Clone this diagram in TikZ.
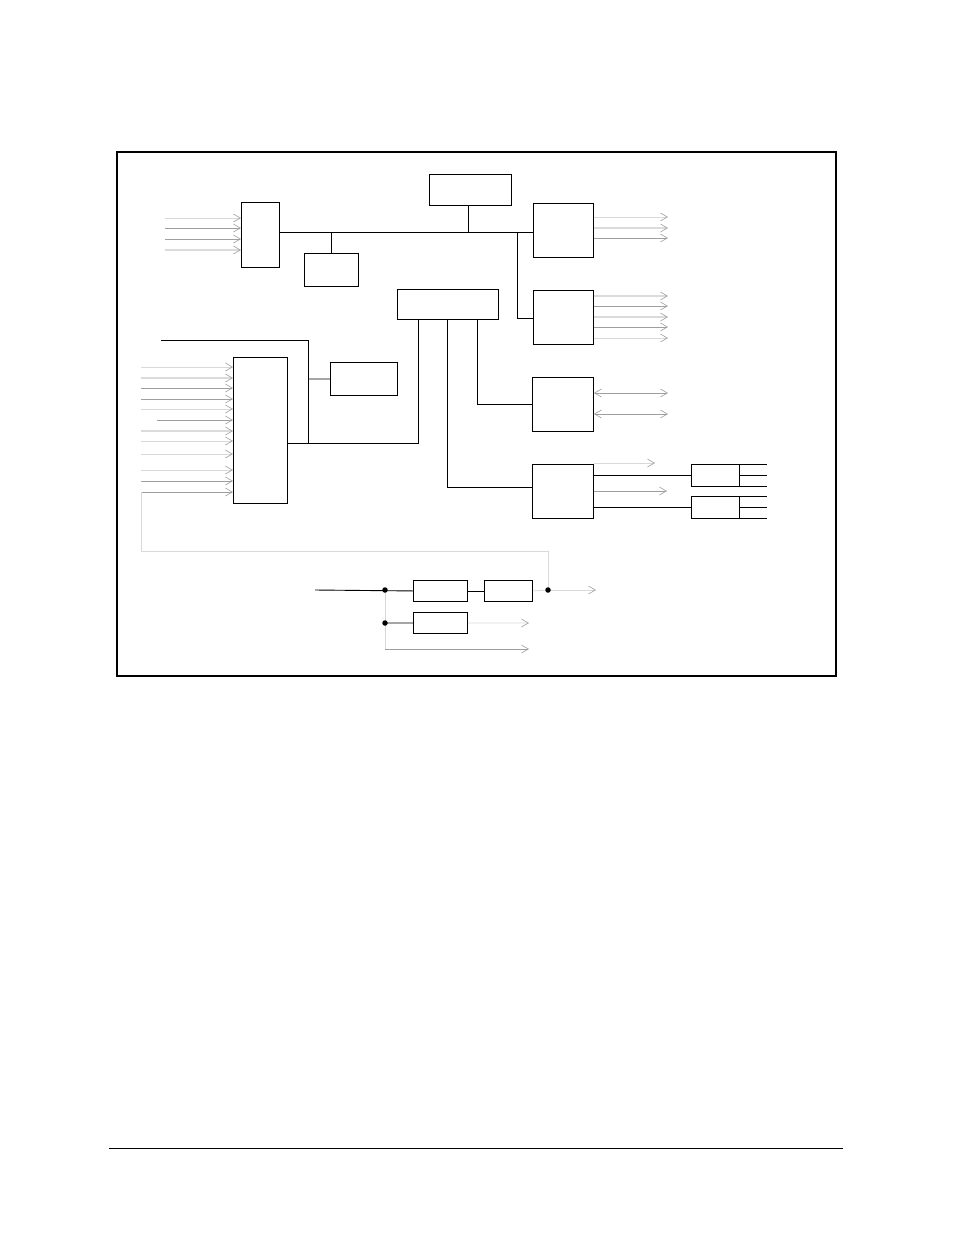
\documentclass[tikz,border=0pt]{standalone}
\usetikzlibrary{arrows.meta}
\begin{document}
\begin{tikzpicture}[x=1pt,y=-1pt,
  blk/.style={draw,line width=0.9pt,inner sep=0pt,anchor=north west},
  wire/.style={line width=0.9pt},
  lt/.style={draw=gray!30,line width=0.8pt},
  ltk/.style={draw=gray!28,line width=1.6pt},
  md/.style={draw=gray!75,line width=0.8pt},
  tip/.style={-{Straight Barb[length=7pt,width=8pt,color=gray!75,line width=0.6pt]}},
  dtip/.style={{Straight Barb[length=7pt,width=8pt,color=gray!75,line width=0.6pt]}-{Straight Barb[length=7pt,width=8pt,color=gray!75,line width=0.6pt]}},
  jdot/.style={circle,fill,inner sep=0pt,minimum size=5.5pt}]
\useasboundingbox (0,0) rectangle (954,1235);
% frame
\draw[line width=1.2pt] (117,152) rectangle (836,676);
% boxes
\node[blk,minimum width=38pt,minimum height=65pt] (A) at (241,202) {};
\node[blk,minimum width=54pt,minimum height=33pt] (B) at (304,253) {};
\node[blk,minimum width=82pt,minimum height=31pt] (C) at (429,174) {};
\node[blk,minimum width=60pt,minimum height=54pt] (D) at (533,203) {};
\node[blk,minimum width=60pt,minimum height=54pt] (E) at (533,290) {};
\node[blk,minimum width=101pt,minimum height=30pt] (F) at (397,289) {};
\node[blk,minimum width=54pt,minimum height=146pt] (G) at (233,357) {};
\node[blk,minimum width=67pt,minimum height=33pt] (H) at (330,362) {};
\node[blk,minimum width=61pt,minimum height=54pt] (I) at (532,377) {};
\node[blk,minimum width=61pt,minimum height=54pt] (J) at (532,464) {};
\node[blk,minimum width=48pt,minimum height=22pt] (K) at (691,464) {};
\node[blk,minimum width=48pt,minimum height=22pt] (L) at (691,496) {};
\node[blk,minimum width=54pt,minimum height=21pt] (M) at (413,580) {};
\node[blk,minimum width=48pt,minimum height=21pt] (N) at (484,580) {};
\node[blk,minimum width=54pt,minimum height=21pt] (O) at (413,612) {};
% junction coordinates
\coordinate (busE) at (517,232);
\coordinate (tl) at (161,340);
\coordinate (tj) at (308,443);
\coordinate (hj) at (308,379);
\coordinate (fb1) at (141,492);
\coordinate (fb2) at (141,551);
\coordinate (fb3) at (548,551);
\coordinate (j1) at (385,590);
\coordinate (j2) at (385,623);
\coordinate (j3) at (548,590);
\coordinate (in0) at (315,590);
\coordinate (vb) at (385,649);
% bus
\draw[wire] (A.east |- 0,232) -- (D.west |- 0,232);
\draw[wire] (B.north) -- (B.north |- 0,232);
\draw[wire] (C.south -| 468,0) -- (468,232);
\draw[wire] (busE) |- (E.west |- 0,318);
% inputs to A
\foreach \yy/\st in {218/lt,228/md,239/md,250/ltk}
  \draw[\st,tip] (165,\yy) -- (A.west |- 0,\yy);
% outputs of D and E
\foreach \yy/\st in {217/lt,228/ltk,238/md}
  \draw[\st,tip] (D.east |- 0,\yy) -- (668,\yy);
\foreach \yy/\st in {296/ltk,306/md,317/ltk,327/md,338/lt}
  \draw[\st,tip] (E.east |- 0,\yy) -- (668,\yy);
% inputs to G
\foreach \xx/\yy/\st in {141/367/lt,141/378/ltk,141/388/md,141/399/md,141/409/lt,157/420/md,141/431/ltk,141/441/lt,141/454/lt,141/470/lt,141/481/md,141/492/md}
  \draw[\st,tip] (\xx,\yy) -- (G.west |- 0,\yy);
% G and H to F
\draw[wire] (G.east |- tj) -| (F.south -| 418,0);
\draw[wire] (tl) -| (tj);
\draw[wire] (hj) -- (H.west);
% F to I and J
\draw[wire] (F.south -| 477,0) |- (I.west);
\draw[wire] (F.south -| 447,0) |- (J.west |- 0,487);
% I double arrows
\foreach \yy in {393,414}
  \draw[md,dtip] (I.east |- 0,\yy) -- (668,\yy);
% J outputs
\draw[lt,tip] (J.east |- 0,463) -- (655,463);
\draw[wire] (J.east |- K.west) -- (K.west);
\draw[md,tip] (J.east |- 0,491) -- (667,491);
\draw[wire] (J.east |- L.west) -- (L.west);
\foreach \yy in {464,475,486,496,507,518}
  \draw[wire] (739,\yy) -- (767,\yy);
% feedback
\draw[lt] (fb1) -- (fb2) -- (fb3) -- (j3);
% bottom chain
\draw[wire] (in0) -- (M.west);
\draw[wire] (M.east) -- (N.west);
\draw[lt] (N.east) -- (j3);
\draw[lt,tip] (j3) -- (596,590);
\draw[lt] (j1) -- (vb);
\draw[wire] (j2) -- (O.west);
\draw[lt,tip] (O.east) -- (529,623);
\draw[md,tip] (vb) -- (529,649);
% junction dots on top
\node[jdot] (d1) at (j1) {};
\node[jdot] (d2) at (j2) {};
\node[jdot] (d3) at (j3) {};
% footer rule
\draw[line width=1pt] (109,1148) -- (843,1148);
\end{tikzpicture}
\end{document}
